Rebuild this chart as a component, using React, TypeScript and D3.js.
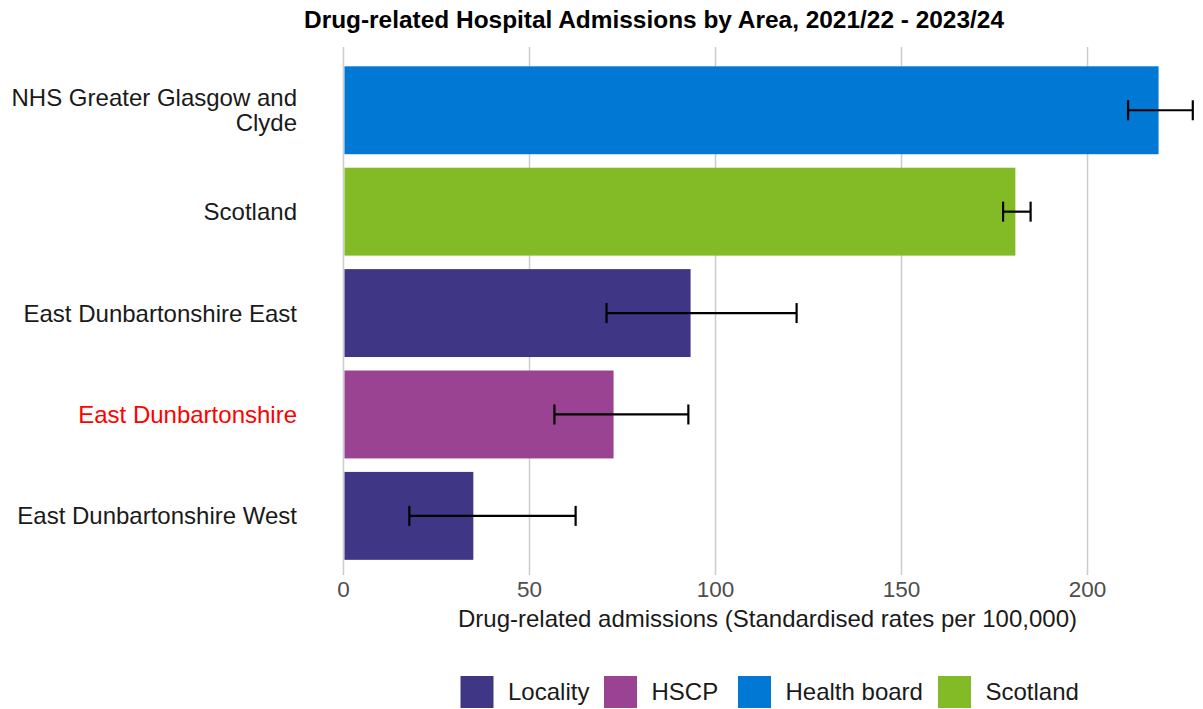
import React from "react";
import * as d3 from "d3";

const areas = [
  "NHS Greater Glasgow and Clyde",
  "Scotland",
  "East Dunbartonshire East",
  "East Dunbartonshire",
  "East Dunbartonshire West",
];
const areaLines = [
  ["NHS Greater Glasgow and", "Clyde"],
  ["Scotland"],
  ["East Dunbartonshire East"],
  ["East Dunbartonshire"],
  ["East Dunbartonshire West"],
];
const areaTypes = ["Health board", "Scotland", "Locality", "HSCP", "Locality"];
const rates = [219.1, 180.6, 93.3, 72.6, 34.9];
const lowerCI = [210.9, 177.3, 70.7, 56.7, 17.7];
const upperCI = [228.3, 184.7, 121.8, 92.7, 62.4];
const xTicks = [0, 50, 100, 150, 200];
const legendTypes = ["Locality", "HSCP", "Health board", "Scotland"];
const typeColors = ["#3F3685", "#9B4393", "#0078D4", "#83BB26"];
const highlightArea = "East Dunbartonshire";

const W = 1203;
const H = 709;
const FONT = "'Liberation Sans', Arial, Helvetica, sans-serif";

export default function App() {
  const left = 343.5;
  const right = 1195.4;
  const top = 47;
  const bottom = 575;
  const x = d3.scaleLinear().domain([0, 229]).range([left, right]);
  const y = d3
    .scaleBand<string>()
    .domain(areas)
    .range([top, bottom])
    .paddingInner(0.133)
    .paddingOuter(0.17)
    .align(0.56);
  const color = d3.scaleOrdinal<string, string>().domain(legendTypes).range(typeColors);
  const bw = y.bandwidth();

  const legendX = [460.5, 604, 738, 938];

  return (
    <svg
      width={W}
      height={H}
      style={{ position: "absolute", left: 0, top: 0, background: "#fff" }}
      fontFamily={FONT}
    >
      <text
        x={654}
        y={28}
        textAnchor="middle"
        fontSize={23.5}
        fontWeight="bold"
        fill="#000"
        textLength={700}
        lengthAdjust="spacingAndGlyphs"
      >
        Drug-related Hospital Admissions by Area, 2021/22 - 2023/24
      </text>
      {xTicks.map((t) => (
        <line key={t} x1={x(t)} x2={x(t)} y1={top} y2={bottom} stroke="#cccccc" strokeWidth={1.5} />
      ))}
      {areas.map((a, i) => (
        <rect
          key={a}
          x={x(0) + 1}
          y={y(a)!}
          width={x(rates[i]) - x(0) - 1}
          height={bw}
          fill={color(areaTypes[i])}
        />
      ))}
      {areas.map((a, i) => {
        const cy = y(a)! + bw / 2;
        return (
          <g key={a} stroke="#000" strokeWidth={2.2}>
            <line x1={x(lowerCI[i])} x2={x(upperCI[i])} y1={cy} y2={cy} />
            <line x1={x(lowerCI[i])} x2={x(lowerCI[i])} y1={cy - 10} y2={cy + 10} />
            <line x1={x(upperCI[i])} x2={x(upperCI[i])} y1={cy - 10} y2={cy + 10} />
          </g>
        );
      })}
      {areas.map((a, i) => {
        const cy = y(a)! + bw / 2;
        const lines = areaLines[i];
        const lh = 25;
        const startY = cy - ((lines.length - 1) * lh) / 2 + 8.5;
        return (
          <text
            key={a}
            textAnchor="end"
            fontSize={24}
            fill={a === highlightArea ? "#FF0000" : "#1a1a1a"}
          >
            {lines.map((l, k) => (
              <tspan key={k} x={297} y={startY + k * lh}>
                {l}
              </tspan>
            ))}
          </text>
        );
      })}
      {xTicks.map((t) => (
        <text key={t} x={x(t)} y={597} textAnchor="middle" fontSize={22.5} fill="#4d4d4d">
          {t}
        </text>
      ))}
      <text x={767.5} y={627} textAnchor="middle" fontSize={24} fill="#1a1a1a">
        Drug-related admissions (Standardised rates per 100,000)
      </text>
      {legendTypes.map((t, i) => (
        <g key={t}>
          <rect x={legendX[i]} y={676} width={33} height={32} fill={color(t)} />
          <text x={legendX[i] + 47.5} y={700} fontSize={24} fill="#1a1a1a">
            {t}
          </text>
        </g>
      ))}
    </svg>
  );
}
